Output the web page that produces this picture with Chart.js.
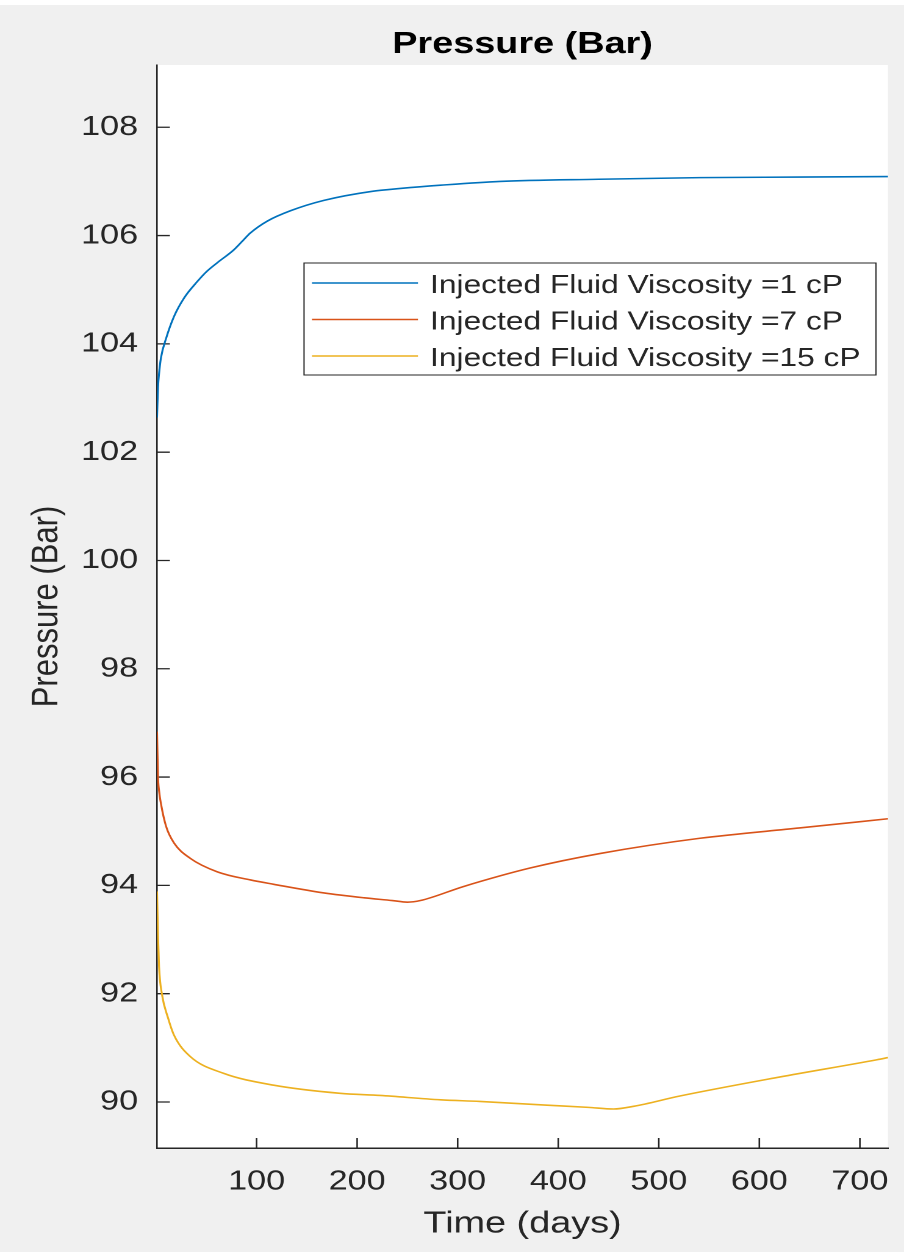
<!DOCTYPE html>
<html>
<head>
<meta charset="utf-8">
<script src="https://cdn.jsdelivr.net/npm/chart.js@4.4.1/dist/chart.umd.min.js"></script>
<style>
  html, body { margin: 0; padding: 0; background: #f0f0f0; overflow: hidden; }
  #wrap { width: 904px; height: 1252px; overflow: hidden; }
  /* the reference figure is stretched horizontally, so the canvas is too */
  #chart { transform-origin: 0 0; transform: scaleX(1.22); }
</style>
</head>
<body>
<div id="wrap"><canvas id="chart" width="741" height="1252"></canvas></div>
<script>
// tick labels
const xTicks = [100, 200, 300, 400, 500, 600, 700];
const yTicks = [90, 92, 94, 96, 98, 100, 102, 104, 106, 108];

// Injected fluid viscosity = 1 cP
const days1 = [1, 2, 3, 5, 10, 18, 28, 41, 50, 61, 77, 86, 94, 111, 134, 167, 216, 243, 283, 342, 440, 541, 640, 728];
const pres1 = [102.64, 103.2, 103.45, 103.75, 104.1, 104.51, 104.85, 105.15, 105.33, 105.5, 105.73, 105.9, 106.05, 106.27, 106.46, 106.65, 106.82, 106.87, 106.93, 107.0, 107.04, 107.07, 107.08, 107.09];

// Injected fluid viscosity = 7 cP
const days7 = [1, 2, 3, 5, 10, 18, 34, 61, 94, 117, 167, 207, 235, 250, 263, 306, 372, 442, 541, 640, 728];
const pres7 = [96.84, 96.0, 95.75, 95.5, 95.09, 94.78, 94.5, 94.25, 94.1, 94.02, 93.86, 93.77, 93.72, 93.69, 93.72, 93.98, 94.32, 94.59, 94.87, 95.06, 95.23];

// Injected fluid viscosity = 15 cP
const days15 = [1, 2, 3, 6, 12, 18, 34, 67, 117, 183, 223, 283, 322, 389, 430, 455, 475, 521, 620, 717, 728];
const pres15 = [93.89, 93.06, 92.5, 91.98, 91.55, 91.23, 90.84, 90.53, 90.31, 90.16, 90.12, 90.04, 90.01, 89.94, 89.9, 89.87, 89.92, 90.11, 90.46, 90.78, 90.82];

const labels = ['Injected Fluid Viscosity =1 cP', 'Injected Fluid Viscosity =7 cP', 'Injected Fluid Viscosity =15 cP'];
const colors = ['#0072BD', '#D95319', '#EDB120'];

const FONT = "'Liberation Sans', Arial, Helvetica, sans-serif";
const INK = '#262626';

const toPoints = (days, pres) => days.map((d, i) => ({ x: d, y: pres[i] }));

// grey figure, white axes
const axesBackground = {
    id: 'axesBackground',
    beforeDraw(chart) {
        const { ctx, chartArea: a, width, height } = chart;
        ctx.save();
        ctx.fillStyle = '#f0f0f0';
        ctx.fillRect(0, 0, width, height);
        ctx.fillStyle = '#ffffff';
        ctx.fillRect(0, 0, width, 5);
        ctx.fillRect(a.left, a.top, a.right - a.left, a.bottom - a.top);
        ctx.restore();
    }
};

// MATLAB style ticks pointing into the axes
const inwardTicks = {
    id: 'inwardTicks',
    beforeDatasetsDraw(chart) {
        const { ctx, chartArea: a, scales: { x, y } } = chart;
        ctx.save();
        ctx.strokeStyle = INK;
        ctx.lineWidth = 1.3;
        ctx.beginPath();
        x.ticks.forEach(t => {
            const px = x.getPixelForValue(t.value);
            ctx.moveTo(px, a.bottom);
            ctx.lineTo(px, a.bottom - 10);
        });
        y.ticks.forEach(t => {
            const py = y.getPixelForValue(t.value);
            ctx.moveTo(a.left, py);
            ctx.lineTo(a.left + 10.5, py);
        });
        ctx.stroke();
        ctx.restore();
    }
};

// boxed legend inside the axes
const boxLegend = {
    id: 'boxLegend',
    afterDraw(chart) {
        const { ctx, chartArea: a } = chart;
        const w = 468.8, h = 112;
        const left = a.right - 9.9 - w;
        const top = a.top + 198;
        ctx.save();
        ctx.fillStyle = '#ffffff';
        ctx.fillRect(left, top, w, h);
        ctx.strokeStyle = INK;
        ctx.lineWidth = 1;
        ctx.strokeRect(left, top, w, h);
        ctx.font = `26px ${FONT}`;
        ctx.textBaseline = 'middle';
        ctx.fillStyle = INK;
        chart.data.datasets.forEach((ds, i) => {
            const ry = top + 20 + i * 36.5;
            ctx.strokeStyle = ds.borderColor;
            ctx.lineWidth = 1.6;
            ctx.beginPath();
            ctx.moveTo(left + 6.5, ry);
            ctx.lineTo(left + 93.4, ry);
            ctx.stroke();
            ctx.fillText(ds.label, left + 103.3, ry + 3);
        });
        ctx.restore();
    }
};

const series = [toPoints(days1, pres1), toPoints(days7, pres7), toPoints(days15, pres15)];

const data = {
    datasets: series.map((pts, i) => ({
        label: labels[i],
        data: pts,
        borderColor: colors[i],
        borderWidth: 1.6,
        pointRadius: 0,
        fill: false,
        cubicInterpolationMode: 'monotone'
    }))
};

const config = {
    type: 'line',
    data: data,
    options: {
        responsive: false,
        animation: false,
        devicePixelRatio: 2,
        events: [],
        layout: { padding: { left: 0, right: 13.1, top: 0, bottom: 0 } },
        plugins: {
            legend: { display: false },
            tooltip: { enabled: false },
            title: {
                display: true,
                text: 'Pressure (Bar)',
                fullSize: false,
                color: '#000000',
                font: { family: FONT, size: 31, weight: 'bold' },
                padding: { top: 26, bottom: 1.8 }
            }
        },
        scales: {
            x: {
                type: 'linear',
                position: 'bottom',
                min: 1,
                max: 728,
                afterBuildTicks: s => { s.ticks = xTicks.map(v => ({ value: v })); },
                afterFit: s => { s.height = 104; s.paddingLeft = 0; s.paddingRight = 0; },
                grid: { display: false, drawTicks: false },
                border: { display: true, color: INK, width: 1.5 },
                ticks: { font: { family: FONT, size: 28 }, color: INK, padding: 17, maxRotation: 0, autoSkip: false },
                title: {
                    display: true,
                    text: 'Time (days)',
                    color: INK,
                    font: { family: FONT, size: 31 },
                    padding: { top: 0, bottom: 9.4 }
                }
            },
            y: {
                type: 'linear',
                min: 89.15,
                max: 109.15,
                afterBuildTicks: s => { s.ticks = yTicks.map(v => ({ value: v })); },
                afterFit: s => { s.width = 128.7; s.paddingTop = 0; s.paddingBottom = 0; },
                grid: { display: false, drawTicks: false },
                border: { display: true, color: INK, width: 1.3 },
                ticks: { font: { family: FONT, size: 28 }, color: INK, padding: 15.5, autoSkip: false },
                title: {
                    display: true,
                    text: 'Pressure (Bar)',
                    color: INK,
                    font: { family: FONT, size: 31 },
                    padding: { top: 20, bottom: 0 }
                }
            }
        }
    },
    plugins: [axesBackground, inwardTicks, boxLegend]
};

new Chart(document.getElementById('chart'), config);
</script>
</body>
</html>
